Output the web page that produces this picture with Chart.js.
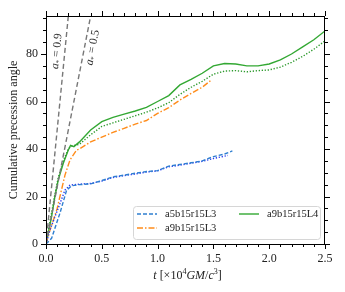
<!DOCTYPE html>
<html lang="en">
<head>
    <meta charset="UTF-8">
    <title>Cumulative precession angle</title>
    <script src="https://cdn.jsdelivr.net/npm/chart.js"></script>
    <style>
        body { margin: 0; padding: 0; background: #ffffff; }
        #wrap { width: 345px; height: 292px; }
    </style>
</head>
<body>
    <div id="wrap"><canvas id="chartPrecession" width="345" height="292"></canvas></div>

    <script>
        // time in units of 1e4 GM/c^3, angle in degrees
        var tA5L3 = [0, 0.05, 0.125, 0.185, 0.23, 0.3, 0.4, 0.5, 0.6, 0.7, 0.8, 0.9, 1.0, 1.1, 1.2, 1.3, 1.4, 1.5, 1.6, 1.67];
        var angA5L3 = [0, 2.4, 13, 22.7, 24.5, 25, 25.3, 26.7, 28.3, 29, 29.8, 30.5, 30.9, 32.8, 33.5, 34.2, 35, 36.8, 37.9, 39.2];

        var tA5L3b = [0, 0.036, 0.125, 0.17, 0.215, 0.3, 0.4, 0.5, 0.6, 0.7, 0.8, 0.9, 1.0, 1.1, 1.2, 1.3, 1.4, 1.5, 1.63];
        var angA5L3b = [0, 6, 17, 22.7, 24.8, 25.2, 25.5, 26.5, 28, 28.8, 29.5, 30.3, 30.8, 32.5, 33.2, 34, 34.8, 36, 37.3];

        var tA9L3 = [0, 0.03, 0.066, 0.1, 0.125, 0.17, 0.215, 0.275, 0.3, 0.4, 0.5, 0.6, 0.7, 0.8, 0.9, 1.0, 1.1, 1.2, 1.3, 1.4, 1.48];
        var angA9L3 = [0, 5, 10, 15, 20, 29, 35.4, 39.6, 40, 43, 45, 47, 48.7, 50.5, 52, 55, 57.4, 60.6, 63.4, 66, 69];

        var tA9L4 = [0, 0.02, 0.05, 0.08, 0.11, 0.155, 0.2, 0.22, 0.25, 0.3, 0.35, 0.4, 0.5, 0.6, 0.7, 0.8, 0.9, 1.0, 1.1, 1.2, 1.3, 1.4, 1.5, 1.6, 1.7, 1.8, 1.9, 2.0, 2.1, 2.2, 2.3, 2.4, 2.5];
        var angA9L4 = [0, 4.5, 11.5, 20, 27, 34, 39.6, 41.5, 41, 43, 45.5, 48, 51.5, 53.3, 54.7, 56, 57.5, 60, 62.5, 67, 69.3, 71.9, 75, 76, 75.8, 75, 75, 75.8, 77.5, 80, 83, 86, 89.7];
        var angA9L4b = [0, 6, 13, 21, 28, 35, 40, 41, 41.5, 42, 44, 46, 49.5, 51, 52.5, 54, 55.5, 57.3, 59.5, 63, 66, 68.5, 71.5, 72.8, 73, 72.5, 73, 73.3, 74.5, 76.5, 79, 82, 85.5];

        // analytic reference lines (a* = 0.9 and a* = 0.5)
        var tRef09 = [0, 0.2];
        var tRef05 = [0, 0.4];
        var angRef = [0, 96];

        var xMajorTicks = [0, 0.5, 1.0, 1.5, 2.0, 2.5];
        var yMajorTicks = [0, 20, 40, 60, 80];

        var serif = "'Liberation Serif', 'DejaVu Serif', serif";

        function pts(t, a) {
            return t.map(function(v, i) { return { x: v, y: a[i] }; });
        }

        function series(label, t, a, color, dash) {
            return {
                label: label,
                data: pts(t, a),
                borderColor: color,
                borderWidth: 1.4,
                borderDash: dash,
                pointRadius: 0,
                showLine: true,
                fill: false,
                tension: 0
            };
        }

        var datasets = [
            series('ref09', tRef09, angRef, '#777777', [5, 3]),
            series('ref05', tRef05, angRef, '#777777', [5, 3]),
            series('a5b15r15L3', tA5L3, angA5L3, '#2f7fd0', [4, 2]),
            series('a5b15r15L3 dot', tA5L3b, angA5L3b, '#2a3cf0', [1.3, 1.7]),
            series('a9b15r15L3', tA9L3, angA9L3, '#ff8c1a', [6, 2, 1.5, 2]),
            series('a9b15r15L4 dot', tA9L4, angA9L4b, '#2e9a2e', [1.3, 1.7]),
            series('a9b15r15L4', tA9L4, angA9L4, '#33a833', [])
        ];

        // outward ticks on all four sides, frame, titles, annotations, legend
        var decorPlugin = {
            id: 'decor',
            afterDraw: function(chart) {
                var ctx = chart.ctx;
                var a = chart.chartArea;
                var xs = chart.scales.x, ys = chart.scales.y;
                ctx.save();
                ctx.strokeStyle = '#000';
                ctx.lineWidth = 1;
                ctx.strokeRect(a.left + 0.5, a.top + 0.5, a.right - a.left - 1, a.bottom - a.top);

                ctx.beginPath();
                for (var i = 0; i <= 25; i++) {
                    var px = Math.round(xs.getPixelForValue(i / 10)) + 0.5;
                    var len = (i % 5 === 0) ? 5 : 3;
                    ctx.moveTo(px, a.bottom); ctx.lineTo(px, a.bottom + len);
                    ctx.moveTo(px, a.top); ctx.lineTo(px, a.top - len);
                }
                for (var j = 0; j <= 95; j += 5) {
                    var py = Math.round(ys.getPixelForValue(j)) + 0.5;
                    var l2 = (j % 20 === 0) ? 5 : 3;
                    ctx.moveTo(a.left, py); ctx.lineTo(a.left - l2, py);
                    ctx.moveTo(a.right, py); ctx.lineTo(a.right + l2, py);
                }
                ctx.stroke();

                // y title
                ctx.fillStyle = '#222';
                ctx.font = '12px ' + serif;
                ctx.textAlign = 'center';
                ctx.textBaseline = 'middle';
                ctx.save();
                ctx.translate(14, (a.top + a.bottom) / 2);
                ctx.rotate(-Math.PI / 2);
                ctx.fillText('Cumulative precession angle', 0, 0);
                ctx.restore();

                // x title with mixed italics
                var parts = [
                    ['italic ', 't'], ['', ' [\u00d710'], ['', '4', true], ['italic ', 'GM'],
                    ['', '/'], ['italic ', 'c'], ['', '3', true], ['', ']']
                ];
                var total = 0;
                parts.forEach(function(p) {
                    ctx.font = p[0] + (p[2] ? '8px ' : '12px ') + serif;
                    total += ctx.measureText(p[1]).width;
                });
                var cx = (a.left + a.right) / 2 - total / 2 + 2;
                ctx.textAlign = 'left';
                ctx.textBaseline = 'alphabetic';
                parts.forEach(function(p) {
                    ctx.font = p[0] + (p[2] ? '8px ' : '12px ') + serif;
                    ctx.fillText(p[1], cx, p[2] ? 274 : 279);
                    cx += ctx.measureText(p[1]).width;
                });

                // a* labels along the reference lines
                function refLabel(tEnd, val, yAt, offset) {
                    var x0 = xs.getPixelForValue(0), y0 = ys.getPixelForValue(0);
                    var x1 = xs.getPixelForValue(tEnd), y1 = ys.getPixelForValue(angRef[1]);
                    var ang = Math.atan2(y1 - y0, x1 - x0);
                    var frac = (yAt - y0) / (y1 - y0);
                    var px = x0 + frac * (x1 - x0), py = yAt;
                    ctx.save();
                    ctx.translate(px, py);
                    ctx.rotate(ang);
                    ctx.fillStyle = '#333';
                    var segs = [['italic 11.5px ', 'a', 0], ['7px ', '*', 3], ['11.5px ', ' = ' + val, 0]];
                    var w = 0;
                    segs.forEach(function(s) { ctx.font = s[0] + serif; w += ctx.measureText(s[1]).width; });
                    var sx = -w / 2;
                    ctx.textBaseline = 'middle';
                    segs.forEach(function(s) {
                        ctx.font = s[0] + serif;
                        ctx.fillText(s[1], sx, offset + s[2]);
                        sx += ctx.measureText(s[1]).width;
                    });
                    ctx.restore();
                }
                refLabel(tRef09[1], '0.9', 52, -8);
                refLabel(tRef05[1], '0.5', 46, 8);

                // legend
                var lx = 133, ly = 206, lw = 187, lh = 33;
                ctx.beginPath();
                ctx.roundRect(lx + 0.5, ly + 0.5, lw, lh, 3);
                ctx.fillStyle = 'rgba(255,255,255,0.85)';
                ctx.fill();
                ctx.strokeStyle = '#d6d6d6';
                ctx.stroke();
                var items = [
                    [datasets[2], 137, 214],
                    [datasets[4], 137, 228],
                    [datasets[6], 239, 214]
                ];
                ctx.font = '10.5px ' + serif;
                ctx.textBaseline = 'middle';
                items.forEach(function(it) {
                    var ds = it[0];
                    ctx.beginPath();
                    ctx.setLineDash(ds.borderDash);
                    ctx.strokeStyle = ds.borderColor;
                    ctx.lineWidth = 1.4;
                    ctx.moveTo(it[1], it[2]); ctx.lineTo(it[1] + 20, it[2]);
                    ctx.stroke();
                    ctx.setLineDash([]);
                    ctx.fillStyle = '#222';
                    ctx.fillText(ds.label, it[1] + 28, it[2] + 0.5);
                });
                ctx.restore();
            }
        };

        new Chart(document.getElementById('chartPrecession'), {
            type: 'scatter',
            data: { datasets: datasets },
            options: {
                responsive: false,
                animation: false,
                layout: { padding: { top: 16, right: 20, left: 0, bottom: 0 } },
                plugins: { legend: { display: false }, tooltip: { enabled: false } },
                scales: {
                    x: {
                        type: 'linear',
                        min: 0, max: 2.5,
                        grid: { display: false, drawTicks: false },
                        border: { display: false },
                        afterBuildTicks: function(s) { s.ticks = xMajorTicks.map(function(v) { return { value: v }; }); },
                        afterFit: function(s) { s.height = 48; },
                        ticks: {
                            padding: 8,
                            color: '#222',
                            font: { family: serif, size: 12 },
                            callback: function(v) { return v.toFixed(1); }
                        }
                    },
                    y: {
                        min: 0, max: 96,
                        grid: { display: false, drawTicks: false },
                        border: { display: false },
                        afterBuildTicks: function(s) { s.ticks = yMajorTicks.map(function(v) { return { value: v }; }); },
                        afterFit: function(s) { s.width = 46; },
                        ticks: {
                            padding: 8,
                            color: '#222',
                            font: { family: serif, size: 12 }
                        }
                    }
                }
            },
            plugins: [decorPlugin]
        });
    </script>
</body>
</html>
